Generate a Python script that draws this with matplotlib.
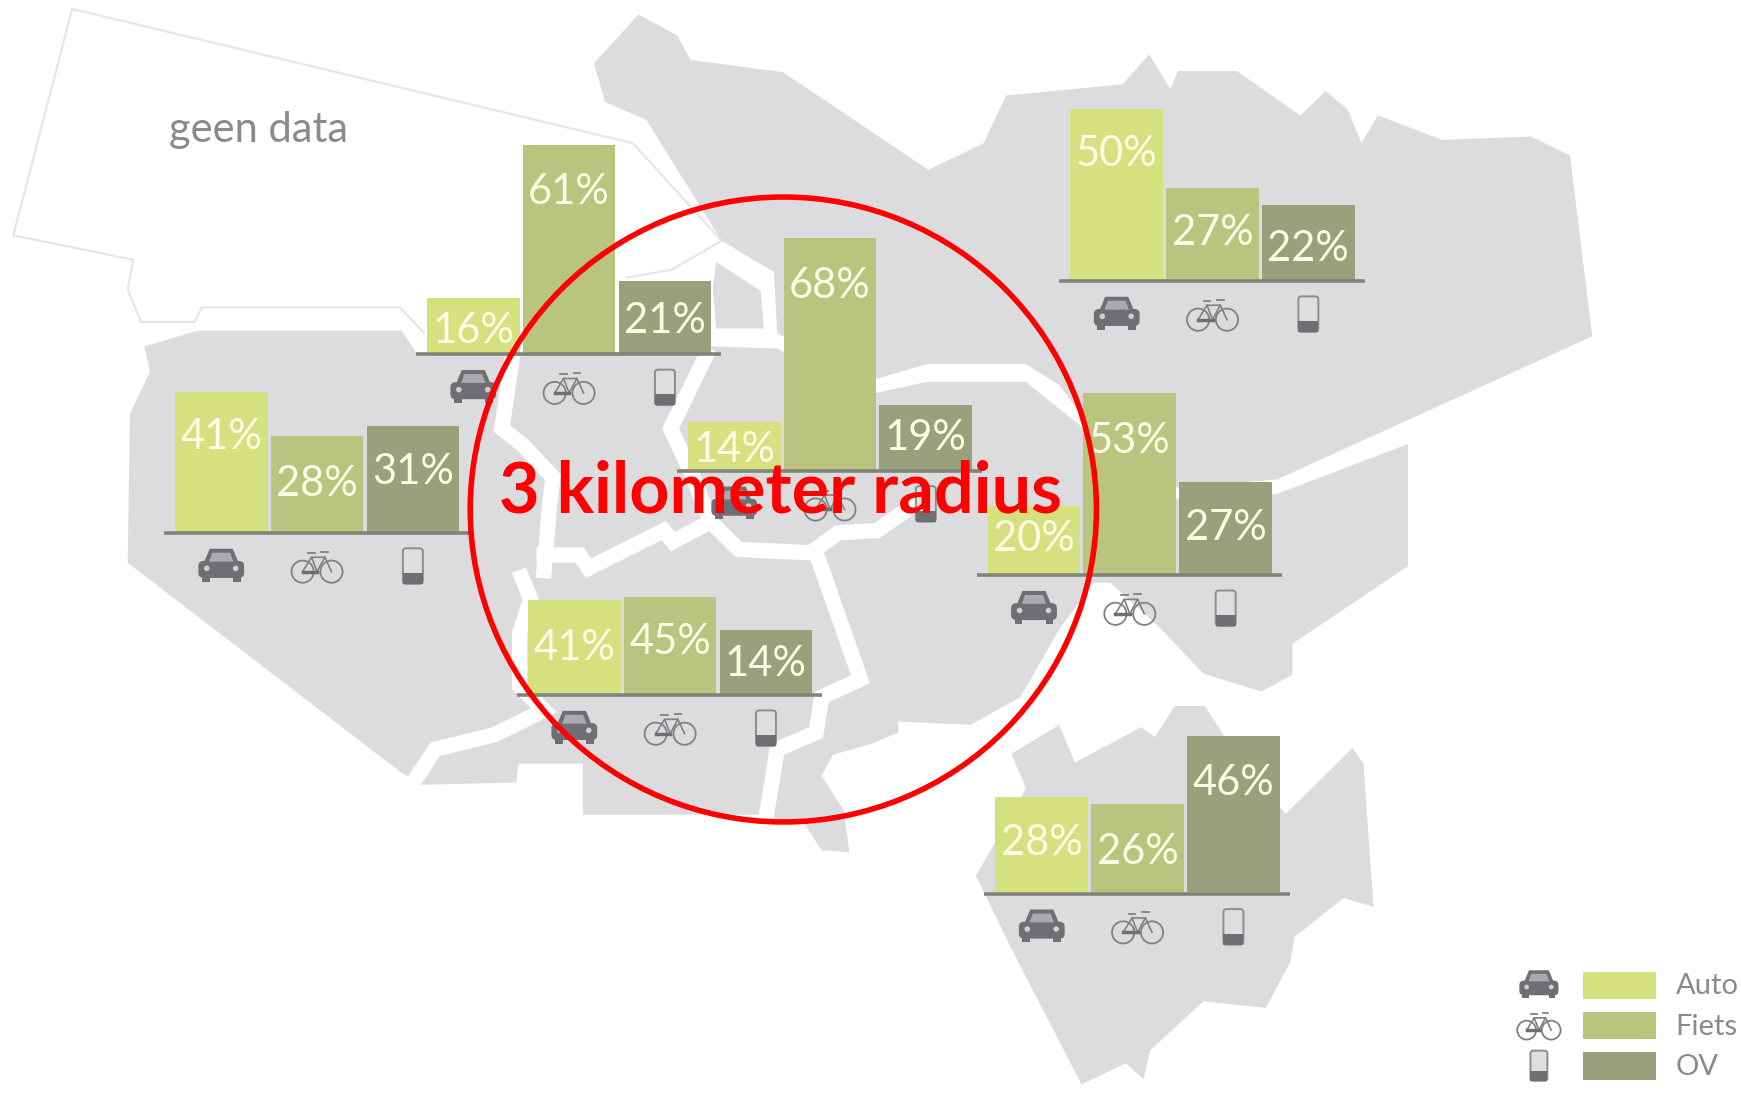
import matplotlib
matplotlib.use("Agg")
import matplotlib.pyplot as plt
from matplotlib.patches import Polygon, Rectangle, Circle, Ellipse, FancyBboxPatch

# ── Data ──────────────────────────────────────────────────────────────────────
MODES = ["Auto", "Fiets", "OV"]

NORTH_VALUES     = [16, 61, 21]
WEST_VALUES      = [41, 28, 31]
CENTRE_VALUES    = [14, 68, 19]
NORTHEAST_VALUES = [50, 27, 22]
EAST_VALUES      = [20, 53, 27]
SOUTH_VALUES     = [41, 45, 14]
SOUTHEAST_VALUES = [28, 26, 46]

# the south group is not drawn to the same scale in the original, heights as seen
SOUTH_DRAWN = [27.4, 28.3, 18.6]

# ── Layout (axes run in the 1568x1000 picture units, y down) ──────────────────
GROUPS = [
    # values, drawn heights, left edge, baseline, drop of each label from bar top
    (NORTH_VALUES,     NORTH_VALUES,     384.5, 318, [29, 42, 36]),
    (WEST_VALUES,      WEST_VALUES,      157.5, 479, [41, 43, 41]),
    (CENTRE_VALUES,    CENTRE_VALUES,    619.5, 423, [25, 43, 30]),
    (NORTHEAST_VALUES, NORTHEAST_VALUES, 964, 252, [40, 41, 40]),
    (EAST_VALUES,      EAST_VALUES,      889.5, 517, [30, 43, 42]),
    (SOUTH_VALUES,     SOUTH_DRAWN,      475.5, 625, [43, 40, 30]),
    (SOUTHEAST_VALUES, SOUTHEAST_VALUES, 896.5, 804, [41, 43, 43]),
]
UNIT_H    = 3.07    # picture units per percent
BAR_W     = 83.5
BAR_PITCH = 86.3

COL_MAP   = "#dcdcde"
COL_BARS  = ["#d5e07e", "#b9c47f", "#9ba07c"]
COL_AXIS  = "#808478"
COL_ICON  = "#6e6f72"
COL_LABEL = "#fbfce6"
COL_TEXT  = "#8a8a8a"
COL_RED   = "#ff0000"

# ── Map outlines ──────────────────────────────────────────────────────────────
NE_AREA = [(575, 13), (610, 32), (622, 54), (705, 65), (765, 105), (784, 118), (836, 153),
           (886, 129), (906, 86), (1011, 76), (1035, 49), (1054, 80), (1061, 64), (1114, 64),
           (1171, 104), (1194, 82), (1214, 99), (1226, 129), (1241, 104), (1299, 126),
           (1379, 123), (1414, 140), (1434, 303), (1150, 432), (1050, 440), (975, 375),
           (954, 347), (924, 328), (835, 328), (780, 344), (700, 300), (697, 245), (650, 217),
           (582, 108), (545, 92), (535, 57)]
WEDGE = [(645, 236), (685, 262), (688, 296), (645, 296), (642, 260)]
MAIN_AREA = [(130, 312), (178, 298), (362, 298), (375, 318), (640, 318), (640, 312), (700, 314),
             (780, 356), (835, 344), (924, 344), (946, 362), (975, 385), (1045, 450), (1150, 445),
             (1268, 400), (1268, 510), (1164, 580), (1164, 608), (1136, 623), (1084, 607),
             (1044, 565), (1000, 525), (985, 525), (954, 567), (919, 628), (874, 653), (809, 650),
             (809, 660), (785, 670), (750, 680), (740, 699), (760, 730), (765, 768), (740, 766),
             (725, 743), (695, 737), (685, 734), (525, 734), (525, 688), (467, 688), (465, 705),
             (380, 707), (360, 695), (115, 507), (117, 373), (135, 335)]
SE_AREA = [(911, 679), (954, 653), (968, 687), (1028, 655), (1040, 664), (1058, 636), (1085, 636),
           (1098, 656), (1125, 700), (1158, 733), (1218, 674), (1228, 688), (1237, 817), (1210, 809),
           (1166, 844), (1162, 867), (1140, 908), (1084, 902), (1036, 946), (1030, 972), (1014, 958),
           (974, 977), (909, 851), (879, 789), (924, 710)]
NO_DATA_LINE = [(382, 300), (360, 277), (182, 277), (175, 290), (127, 290), (115, 261), (120, 234),
                (12, 212), (65, 8), (570, 129), (650, 217)]
NO_DATA_INNER = [(565, 250), (605, 243), (650, 217)]
ROADS = [
    [(462, 318), (452, 386), (472, 402), (498, 430), (495, 455), (490, 514)],
    [(490, 500), (522, 500), (530, 512), (598, 478), (606, 488), (640, 470)],
    [(640, 470), (665, 495), (730, 498), (755, 480), (790, 478), (830, 450)],
    [(735, 498), (775, 612), (740, 628), (735, 660), (700, 675), (690, 736)],
    [(636, 320), (604, 386), (622, 425), (640, 470)],
    [(470, 520), (478, 540), (468, 570), (468, 618), (490, 640), (445, 662), (392, 675), (372, 705)],
]


# ── Icons ─────────────────────────────────────────────────────────────────────
def draw_car(ax, cx, cy, s=1.0):
    ax.add_patch(Polygon([(cx - 15*s, cy - 3*s), (cx - 10*s, cy - 15*s), (cx + 10*s, cy - 15*s),
                          (cx + 15*s, cy - 3*s)], fc=COL_ICON, ec=COL_ICON, lw=1, zorder=5))
    ax.add_patch(FancyBboxPatch((cx - 20*s, cy - 4*s), 40*s, 14*s, boxstyle=f"round,pad=0,rounding_size={4*s}",
                                fc=COL_ICON, ec=COL_ICON, lw=1, zorder=5))
    ax.add_patch(Polygon([(cx - 11*s, cy - 4*s), (cx - 8*s, cy - 12*s), (cx + 8*s, cy - 12*s),
                          (cx + 11*s, cy - 4*s)], fc="#a9aaad", ec="none", zorder=6))
    for sx in (-1, 1):
        ax.add_patch(Rectangle((cx + sx*14*s - 3.5*s, cy + 9*s), 7*s, 5*s, fc=COL_ICON, ec="none", zorder=5))
        ax.add_patch(Circle((cx + sx*13*s, cy + 2*s), 2.5*s, fc="#d0d0d2", ec="none", zorder=6))


def draw_bike(ax, cx, cy, s=1.0):
    col = "#808184"
    for sx in (-1, 1):
        ax.add_patch(Circle((cx + sx*13*s, cy + 5*s), 10*s, fc="none", ec=col, lw=1.3, zorder=5))
    ax.plot([cx - 13*s, cx - 5*s, cx + 7*s, cx + 13*s], [cy + 5*s, cy - 8*s, cy - 8*s, cy + 5*s],
            color=col, lw=1.2, zorder=5)
    ax.plot([cx - 5*s, cx, cx + 7*s], [cy - 8*s, cy + 5*s, cy - 8*s], color=col, lw=1.2, zorder=5)
    ax.plot([cx - 13*s, cx], [cy + 5*s, cy + 5*s], color=COL_ICON, lw=2.5, zorder=5)
    ax.plot([cx - 8*s, cx - 2*s], [cy - 12*s, cy - 12*s], color=col, lw=1.3, zorder=5)
    ax.plot([cx + 4*s, cx + 10*s], [cy - 13*s, cy - 13*s], color=col, lw=1.3, zorder=5)


def draw_phone(ax, cx, cy, s=1.0):
    ax.add_patch(FancyBboxPatch((cx - 9*s, cy - 16*s), 18*s, 32*s, boxstyle=f"round,pad=0,rounding_size={3*s}",
                                fc="#dededf", ec="#8c8d90", lw=1.4, zorder=5))
    ax.add_patch(Rectangle((cx - 9*s, cy + 6*s), 18*s, 10*s, fc=COL_ICON, ec="none", zorder=6))


ICONS = [draw_car, draw_bike, draw_phone]

# ── Figure ────────────────────────────────────────────────────────────────────
fig = plt.figure(figsize=(17.41, 11.10), dpi=100, facecolor="white")
ax = fig.add_axes([0, 0, 1, 1])
ax.set_xlim(0, 1568)
ax.set_ylim(1000, 0)
ax.axis("off")

for area in (NE_AREA, MAIN_AREA, SE_AREA, WEDGE):
    ax.add_patch(Polygon(area, fc=COL_MAP, ec="none", zorder=1))
for road in ROADS:
    xs, ys = zip(*road)
    ax.plot(xs, ys, color="white", lw=11, solid_joinstyle="miter", zorder=2)
for outline in (NO_DATA_LINE, NO_DATA_INNER):
    xs, ys = zip(*outline)
    ax.plot(xs, ys, color="#e6e6e6", lw=1.6, zorder=2)

ax.text(233, 117, "geen data", family="Lato", fontsize=30, color=COL_TEXT,
        ha="center", va="center", zorder=3)

# ── Bars ──────────────────────────────────────────────────────────────────────
for values, drawn, left, base, drops in GROUPS:
    for i, (val, h, drop) in enumerate(zip(values, drawn, drops)):
        x = left + i * BAR_PITCH
        top = base - h * UNIT_H
        ax.bar(x + BAR_W / 2, h * UNIT_H, width=BAR_W, bottom=top, color=COL_BARS[i], zorder=3)
        ax.text(x + BAR_W / 2, top + drop, f"{val}%", family="Lato", fontsize=30, color=COL_LABEL,
                ha="center", va="center", zorder=4)
        ICONS[i](ax, x + BAR_W / 2, base + 31)
    ax.plot([left - 10, left + 265], [base + 1, base + 1], color=COL_AXIS, lw=2.6,
            solid_capstyle="butt", zorder=4)

# ── Legend ────────────────────────────────────────────────────────────────────
for i, mode in enumerate(MODES):
    y = 875.5 + i * 36.3
    ax.add_patch(Rectangle((1426, y), 65, 24.5, fc=COL_BARS[i], ec="none", zorder=3))
    ax.text(1509, y + 13, mode, family="Lato", fontsize=21, color=COL_TEXT,
            ha="left", va="center", zorder=3)
    ICONS[i](ax, 1386, y + 12, s=0.85)

# ── Red overlay ───────────────────────────────────────────────────────────────
ax.add_patch(Ellipse((705.5, 459), 564, 563, fc="none", ec=COL_RED, lw=4, zorder=7))
ax.text(703, 443, "3 kilometer radius", family="Lato", fontweight="bold", fontsize=50.5,
        color=COL_RED, ha="center", va="center", zorder=8)

fig.savefig("out.png", dpi=100)
